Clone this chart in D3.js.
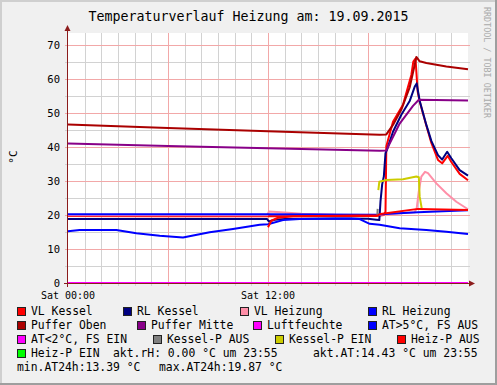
<!DOCTYPE html>
<html>
<head>
<meta charset="utf-8">
<script src="https://cdn.jsdelivr.net/npm/d3@7"></script>
<style>
body { margin: 0; background: #f0f0f0; }
text { font-family: "DejaVu Sans Mono", monospace; }
</style>
</head>
<body>
<div id="chart"></div>
<script>
const width = 497
const height = 385

// data, hours since Sat 00:00 and °C
const vlKessel = [[0,19.7],[6,19.6],[12,19.6],[18.5,19.7],[18.95,20.0],[19.05,21],[19.1,40.2],[19.5,47.4],[20.1,52.4],[20.6,61.2],[20.72,65.1],[20.85,66.0],[20.98,56.3],[21.1,53.4],[21.5,46.3],[21.8,41.2],[22.2,36.2],[22.45,35.2],[22.78,37.4],[23.0,35.6],[23.5,32.1],[24,30.2]]
const rlKessel = [[0,18.8],[6,18.8],[11.95,18.8],[12.05,18.1],[12.4,18.6],[13,18.8],[16,19.0],[18,18.9],[18.5,18.6],[18.68,18.5],[18.75,24],[18.85,29],[18.95,31.3],[19.05,38.2],[19.15,39.3],[19.5,44.5],[20.0,49.5],[20.5,53.5],[20.8,57.7],[20.92,58.7],[21.1,53.6],[21.5,46.5],[21.8,41.8],[22.2,37.6],[22.45,36.3],[22.75,38.6],[23.0,36.7],[23.5,33.2],[24,31.6]]
const vlHeizung = [[0,19.9],[11.95,19.9],[12.05,21.0],[13,20.7],[14,20.4],[16,20.1],[18.5,20.0],[20.8,20.8],[20.92,21.9],[21.05,27],[21.2,31.3],[21.42,32.7],[21.6,32.3],[22.1,29.3],[22.7,26.4],[23.3,23.9],[24,21.7]]
const rlHeizung = [[0,20.2],[12,20.2],[18.5,20.1],[19,20.3],[21,20.8],[24,21.4]]
const pufferOben = [[0,46.6],[6,45.6],[12,44.6],[18.7,43.6],[19.1,43.7],[19.5,46.5],[20.0,51],[20.5,57.5],[20.75,63],[20.9,66.5],[21.1,65.2],[21.5,64.7],[22.7,63.7],[24,62.9]]
const pufferMitte = [[0,41.0],[6,40.3],[12,39.6],[18.7,38.9],[19.1,39.0],[19.9,46.9],[20.7,52.1],[21.05,53.9],[24,53.7]]
const luftfeuchte = [[0,0],[24,0]]
const atUeber5 = [[0,15.2],[0.7,15.6],[2.9,15.6],[4.1,14.6],[5.5,13.9],[6.9,13.4],[8.5,14.9],[9.9,15.9],[11.5,17.1],[12,17.3],[12.9,18.5],[13.9,18.8],[16.9,19.0],[17.5,18.8],[18.1,17.4],[18.7,17.1],[19.9,16.1],[21.5,15.6],[22.7,15.1],[24,14.4]]
const atUnter2 = []
const kesselPAus = [[18.56,20.0],[18.58,21.8]]
const kesselPEin = [[18.62,27.3],[18.68,29.8],[19.1,30.3],[20.1,30.5],[20.9,31.3],[21.05,31.1],[21.1,25.4],[21.22,22.0]]
const heizPAus = [[12.0,16.4],[12.2,18.3],[12.6,19.2],[13.5,19.6],[18.6,19.9],[18.75,20.3],[21.0,21.8],[24,21.5]]
const heizPEin = []

const seriesNames = ["VL Kessel","RL Kessel","VL Heizung","RL Heizung","Puffer Oben","Puffer Mitte","Luftfeuchte","AT>5°C, FS AUS","AT<2°C, FS EIN","Kessel-P AUS","Kessel-P EIN","Heiz-P AUS","Heiz-P EIN"]
const seriesData = [vlKessel, rlKessel, vlHeizung, rlHeizung, pufferOben, pufferMitte, luftfeuchte, atUeber5, atUnter2, kesselPAus, kesselPEin, heizPAus, heizPEin]
const seriesColors = ["#ff0000","#000080","#ff8fa8","#0000ff","#aa0000","#880088","#ff00ff","#0000ff","#ff00ff","#808080","#cccc00","#ff0000","#00ff00"]

const yTicks = [0,10,20,30,40,50,60,70]
const xTicks = [0,12]
const xTickLabels = ["Sat 00:00","Sat 12:00"]
const title = "Temperaturverlauf Heizung am: 19.09.2015"
const infoLines = [["akt.rH: 0.00 °C um 23:55","akt.AT:14.43 °C um 23:55"],["min.AT24h:13.39 °C","max.AT24h:19.87 °C"]]

const axisColor = "#8c1c1c"

const svg = d3.select("#chart")
    .append("svg")
    .attr("width", width)
    .attr("height", height)

const x = d3.scaleLinear().domain([0, 24]).range([68, 468])
const y = d3.scaleLinear().domain([0, 70]).range([283, 45])
const plotTop = Math.round(y(73.5))

/* frame */
svg.append("rect").attr("width", width).attr("height", height).attr("fill", "#f0f0f0")
svg.append("path").attr("d", `M1,${height} V1 H${width}`).attr("stroke", "#cfcfcf").attr("stroke-width", 2).attr("fill", "none")
svg.append("path").attr("d", `M0,${height-1} H${width-1} V0`).attr("stroke", "#9e9e9e").attr("stroke-width", 2).attr("fill", "none")

/* plot area */
svg.append("rect")
    .attr("x", x(0))
    .attr("y", plotTop)
    .attr("width", x(24) - x(0))
    .attr("height", y(0) - plotTop)
    .attr("fill", "#ffffff")

/* grid, minor then major */
const hours = d3.range(1, 24)
const levels = d3.range(5, 75, 5)
let minorD = ""
let majorD = ""
hours.forEach(h => {
    const seg = `M${Math.round(x(h)) + 0.5},${plotTop}V${y(0) + 3}`
    if (h % 6 === 0) majorD += seg
    else minorD += seg
})
levels.forEach(v => {
    const seg = `M${x(0) - 3},${Math.round(y(v)) + 0.5}H${x(24) + 2}`
    if (v % 10 === 0) majorD += seg
    else minorD += seg
})
svg.append("path")
    .attr("d", minorD)
    .attr("fill", "none")
    .attr("stroke", "#d2d2d2")
    .attr("stroke-width", 1)
svg.append("path")
    .attr("d", majorD)
    .attr("fill", "none")
    .attr("stroke", "#f2a8a8")
    .attr("stroke-width", 1)

/* lines */
const line = d3.line()
    .x(d => x(d[0]))
    .y(d => y(d[1]))

seriesData.forEach((data, i) => {
    if (data.length === 0) return
    svg.append("path")
        .datum(data)
        .attr("d", line)
        .attr("fill", "none")
        .attr("stroke", seriesColors[i])
        .attr("stroke-width", 2)
        .attr("stroke-linejoin", "round")
})

/* axes */
svg.append("line")
    .attr("x1", x(0) - 0.5).attr("x2", x(0) - 0.5)
    .attr("y1", y(0) + 4).attr("y2", 29)
    .attr("stroke", axisColor)
svg.append("path")
    .attr("d", `M${x(0)-3.5},31 L${x(0)+2.5},31 L${x(0)-0.5},25 Z`)
    .attr("fill", axisColor)
svg.append("line")
    .attr("x1", x(0) - 4).attr("x2", x(24) + 2)
    .attr("y1", y(0) + 0.5).attr("y2", y(0) + 0.5)
    .attr("stroke", axisColor)
svg.append("path")
    .attr("d", `M${x(24)+1},${y(0)-2.5} L${x(24)+1},${y(0)+3.5} L${x(24)+7},${y(0)+0.5} Z`)
    .attr("fill", axisColor)

svg.append("g").selectAll("text")
    .data(yTicks)
    .enter()
    .append("text")
    .attr("x", 60)
    .attr("y", d => y(d) + 4)
    .attr("text-anchor", "end")
    .attr("font-size", 10.5)
    .attr("fill", "black")
    .text(d => d)

svg.append("g").selectAll("text")
    .data(xTicks)
    .enter()
    .append("text")
    .attr("x", d => x(d))
    .attr("y", 298.5)
    .attr("text-anchor", "middle")
    .attr("font-size", 10)
    .attr("fill", "black")
    .text((d, i) => xTickLabels[i])

svg.append("text")
    .attr("transform", "translate(17,157) rotate(-90)")
    .attr("text-anchor", "middle")
    .attr("font-size", 11)
    .attr("fill", "black")
    .text("°C")

svg.append("text")
    .attr("x", width / 2)
    .attr("y", 21)
    .attr("text-anchor", "middle")
    .attr("font-size", 13.3)
    .attr("fill", "black")
    .text(title)

svg.append("text")
    .attr("transform", "translate(484,7) rotate(90)")
    .attr("font-size", 8.4)
    .attr("fill", "#aaaaaa")
    .text("RRDTOOL / TOBI OETIKER")

/* legend */
const legendCols = [[17,123,240,368],[17,137,253,368],[17,153,275,397],[17]]
let k = 0
legendCols.forEach((cols, r) => {
    cols.forEach(cx => {
        const base = 315 + 14 * r
        svg.append("rect")
            .attr("x", cx + 0.5)
            .attr("y", base - 7.5)
            .attr("width", 8)
            .attr("height", 8)
            .attr("fill", seriesColors[k])
            .attr("stroke", "#222")
        svg.append("text")
            .attr("x", cx + 14)
            .attr("y", base)
            .attr("font-size", 11.4)
            .attr("fill", "black")
            .text(seriesNames[k])
        k++
    })
})
const infoX = [[113, 313], [17, 159]]
infoLines.forEach((row, r) => {
    row.forEach((t, c) => {
        svg.append("text")
            .attr("x", infoX[r][c])
            .attr("y", 315 + 14 * (r + 3))
            .attr("font-size", 11.4)
            .attr("fill", "black")
            .text(t)
    })
})
</script>
</body>
</html>
